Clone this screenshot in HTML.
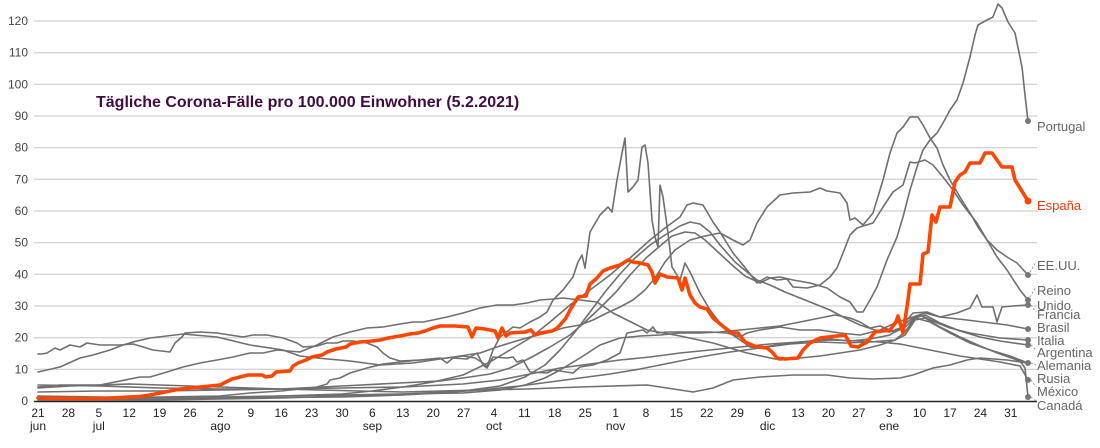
<!DOCTYPE html>
<html><head><meta charset="utf-8"><style>
html,body{margin:0;padding:0;background:#fff;}
svg{display:block;}
text{font-family:"Liberation Sans",Arial,sans-serif;}
</style></head><body>
<svg width="1100" height="448" viewBox="0 0 1100 448" xmlns="http://www.w3.org/2000/svg">
<rect width="1100" height="448" fill="#fff"/>
<g stroke="#c6c6c6" stroke-width="1">
<line x1="34" y1="21" x2="1037" y2="21"/>
<line x1="34" y1="52.7" x2="1037" y2="52.7"/>
<line x1="34" y1="84.3" x2="1037" y2="84.3"/>
<line x1="34" y1="116" x2="1037" y2="116"/>
<line x1="34" y1="147.7" x2="1037" y2="147.7"/>
<line x1="34" y1="179.3" x2="1037" y2="179.3"/>
<line x1="34" y1="211" x2="1037" y2="211"/>
<line x1="34" y1="242.7" x2="1037" y2="242.7"/>
<line x1="34" y1="274.3" x2="1037" y2="274.3"/>
<line x1="34" y1="306" x2="1037" y2="306"/>
<line x1="34" y1="337.7" x2="1037" y2="337.7"/>
<line x1="34" y1="369.3" x2="1037" y2="369.3"/>
</g>
<g font-size="12" fill="#444" text-anchor="end">
<text x="28" y="25">120</text><text x="28" y="56.7">110</text><text x="28" y="88.3">100</text>
<text x="28" y="120">90</text><text x="28" y="151.7">80</text><text x="28" y="183.3">70</text>
<text x="28" y="215">60</text><text x="28" y="246.7">50</text><text x="28" y="278.3">40</text>
<text x="28" y="310">30</text><text x="28" y="341.7">20</text><text x="28" y="373.3">10</text>
<text x="28" y="405">0</text>
</g>
<text x="96" y="107" font-size="16" font-weight="bold" fill="#420a45">Tägliche Corona-Fälle pro 100.000 Einwohner (5.2.2021)</text>

<g fill="none" stroke="#6f6f6f" stroke-width="1.6" stroke-linejoin="round" stroke-linecap="round">
<!-- Canada -->
<polyline points="38,398 100,398.5 160,398 220,398 281,397.5 342,397 403,395 440,393 480,390 520,386 550,382 580,378 610,374 640,369 670,363 700,357 730,352 760,348 790,344 820,342 845,343 870,342 895,340 905,335 915,320 925,318 940,327 960,337 980,346 1000,354 1020,361 1025,368 1028,397"/>
<!-- Mexico -->
<polyline points="38,388 70,386 100,385 130,384 160,385 190,386 220,387 250,388 281,389 320,390 360,391 403,392 440,391 480,390 527,389 580,387 647,385 680,390 693,392 713,388 733,380 760,377 793,375 827,375 850,378 873,379 900,378 913,375 933,368 950,365 967,360 980,358 1007,360 1028,363"/>
<!-- Russia -->
<polyline points="38,385 100,386 160,388 220,389 281,389 342,388 403,387 463,384 500,380 530,374 560,368 590,364 620,360 650,357 680,353 710,350 740,347 770,344 800,342 830,340 860,341 880,342 900,344 920,348 940,352 960,356 980,359 1000,362 1020,366 1028,380"/>
<!-- Germany -->
<polyline points="38,399 160,399.5 220,398 281,396 342,395 403,394 463,393 500,390 525,385 545,378 560,370 580,358 600,345 620,338 640,336 660,335 680,333 700,333 720,332 740,330 760,328 780,326 800,322 820,318 835,315 850,318 860,322 870,328 880,326 895,332 905,327 915,318 930,322 950,333 970,343 990,350 1010,356 1028,363"/>
<!-- Argentina -->
<polyline points="38,387 60,385 100,385 140,377 150,377 167,372 183,367 200,363 217,360 233,357 250,353 263,353 277,350 300,352 317,345 333,337 350,332 367,328 383,327 400,324 413,322 423,322 433,320 447,317 463,313 480,308 497,305 513,305 527,303 540,300 553,299 563,298 580,300 597,302 613,313 633,323 647,330 680,336 713,343 747,353 780,360 800,358 820,356 840,353 860,350 880,345 895,340 905,332 915,318 925,315 940,323 960,331 980,337 1000,341 1028,345"/>
<!-- Italy -->
<polyline points="38,400 160,400 220,399 281,398 342,396 403,394 463,391 500,386 525,377 545,365 560,350 575,332 590,312 605,292 620,274 635,258 650,245 665,235 680,226 690,222 700,224 710,232 720,245 735,262 747,272 757,280 770,285 785,292 800,298 815,304 830,310 845,318 860,325 875,330 890,332 900,328 910,320 920,315 935,322 950,328 970,333 1000,338 1028,340"/>
<!-- Brazil -->
<polyline points="38,354 42,354 47,353 55,348 60,350 70,345 80,347 87,343 100,345 120,345 133,344 143,347 153,350 170,352 175,343 182,337 185,333 200,332 217,333 230,335 243,337 253,335 267,335 283,338 297,343 303,347 317,346 327,343 337,343 343,341 353,341 367,343 377,347 383,353 390,358 400,361 420,360 440,358 447,363 453,358 467,359 477,353 483,365 487,368 493,357 507,358 513,357 517,362 523,360 530,372 547,373 553,370 573,373 580,367 593,365 607,360 620,353 627,333 643,330 647,333 653,327 657,333 667,332 710,332 727,333 740,337 747,333 760,330 780,327 800,330 820,330 840,333 860,335 880,330 895,323 910,318 925,313 940,317 967,320 1007,325 1028,329"/>
<!-- France -->
<polyline points="38,399 100,398 160,397 220,396 250,393 281,391 300,389 317,387 327,384 330,380 340,378 350,373 367,368 383,364 400,362 420,360 447,358 463,356 475,358 483,363 487,367 493,350 500,337 513,327 520,328 530,322 540,317 547,312 553,300 563,290 573,277 578,262 582,255 585,268 590,232 600,215 608,207 612,212 617,180 622,153 625,138 628,192 633,187 638,180 642,147 645,145 648,163 652,220 655,237 658,247 660,185 663,197 668,233 672,267 680,280 685,263 690,272 700,293 710,310 720,323 730,333 740,340 750,347 757,348 770,346 790,343 810,341 830,339 850,341 870,339 890,335 900,328 913,313 927,312 940,317 957,313 970,308 977,295 982,307 993,307 997,322 1002,307 1013,306 1028,305"/>
<!-- UK -->
<polyline points="38,396 100,397 160,398 220,397 281,396 342,394 372,391 403,387 433,382 463,375 490,362 510,350 530,338 550,322 570,305 590,290 610,275 630,258 650,240 665,228 680,217 687,205 693,203 703,205 713,222 720,232 733,253 747,270 757,283 767,277 777,280 787,279 793,287 807,288 820,285 830,277 837,268 845,248 850,235 857,228 863,226 873,223 883,207 893,192 903,185 910,162 915,163 925,160 933,165 943,177 953,190 963,205 977,223 987,240 997,257 1007,270 1020,290 1028,300"/>
<!-- US -->
<polyline points="38,372 60,367 80,358 93,355 110,350 123,345 133,342 150,338 183,334 217,337 250,345 283,350 300,356 317,358 350,361 380,365 413,363 447,358 480,353 497,347 513,342 530,337 547,333 563,328 580,325 593,320 607,313 620,307 633,300 645,290 655,278 665,262 675,250 690,240 705,236 720,233 733,240 743,245 750,240 757,223 767,207 780,195 793,193 810,192 820,188 827,191 840,193 847,203 850,220 855,218 863,225 873,213 883,180 890,153 897,133 903,127 910,117 918,117 923,125 930,138 937,148 943,165 950,180 960,197 970,213 978,227 987,240 997,250 1007,257 1017,263 1028,275"/>
<!-- Portugal -->
<polyline points="38,392 100,391 160,391 220,390 281,389 342,386 400,383 440,381 463,378 490,374 510,368 530,358 550,347 570,335 585,322 600,308 616,292 630,275 646,258 660,246 672,236 685,232 695,233 705,240 718,252 732,265 745,276 760,283 770,278 780,277 793,280 810,283 827,288 840,297 850,302 857,312 863,312 870,300 877,287 887,260 897,237 903,217 910,190 917,167 923,150 930,140 937,133 943,123 950,110 957,100 963,83 970,57 975,35 978,25 987,20 993,17 998,4 1002,8 1008,22 1015,33 1022,67 1025,95 1028,121"/>
</g>
<!-- Spain -->
<polyline fill="none" stroke="#ff4500" stroke-width="3.6" stroke-linejoin="round" stroke-linecap="round" points="38,398 60,398.5 100,398.5 120,397.5 140,396.5 150,395 160,393 170,391 180,389 190,388 200,387 210,386 220,385 226,382 232,379 240,377 248,375 262,375 266,377 272,376 276,372 290,371 293,366 298,363 306,360 312,357 322,355 327,352 336,349 346,347 350,344 360,342 372,341 380,340 388,338 400,336 410,334 418,333 425,331 433,328 440,326 455,326 468,327 472,337 476,328 485,329 495,331 498,338 502,328 506,336 510,333 525,332 531,330 535,335 540,333 552,331 556,329 560,325 566,318 570,310 575,302 578,297 586,296 590,284 596,279 603,271 610,268 620,265 628,260 633,262 640,263 648,265 652,272 655,283 660,274 667,277 678,278 682,290 685,278 690,295 695,303 700,307 707,309 713,318 725,328 732,333 738,333 745,342 757,347 767,348 772,352 777,358 785,359 798,358 803,350 810,343 820,338 845,335 848,340 851,346 858,347 867,342 875,332 890,330 896,322 898,316 903,333 908,300 910,284 920,284 923,254 928,252 932,215 936,222 940,207 950,207 955,182 960,175 965,172 970,163 980,163 985,153 992,153 997,160 1002,167 1012,167 1015,180 1020,188 1028,201"/>

<line x1="34" y1="401.5" x2="1037" y2="401.5" stroke="#222" stroke-width="1.5"/>

<g fill="#777">
<circle cx="1028" cy="121" r="3"/><circle cx="1028" cy="275" r="3"/><circle cx="1028" cy="300" r="3"/>
<circle cx="1028" cy="305" r="3"/><circle cx="1028" cy="329" r="3"/><circle cx="1028" cy="340" r="3"/>
<circle cx="1028" cy="345" r="3"/><circle cx="1028" cy="363" r="3"/><circle cx="1028" cy="380" r="3"/>
<circle cx="1028" cy="397" r="3"/>
</g>
<circle cx="1028" cy="201" r="3.5" fill="#ff4500"/>
<g stroke="#999" stroke-width="1" stroke-dasharray="2,2" fill="none">
<line x1="1030" y1="272" x2="1036" y2="262"/>
<line x1="1030" y1="297" x2="1036" y2="287"/>
<line x1="1031" y1="305" x2="1036" y2="312"/>
<line x1="1031" y1="345" x2="1036" y2="350"/>
<line x1="1031" y1="363" x2="1036" y2="365"/>
<line x1="1031" y1="380" x2="1036" y2="387"/>
<line x1="1031" y1="397" x2="1036" y2="401"/>
</g>
<g font-size="13" fill="#666">
<text x="1037" y="131">Portugal</text>
<text x="1037" y="270">EE.UU.</text>
<text x="1037" y="295">Reino</text>
<text x="1037" y="310">Unido</text>
<text x="1037" y="319">Francia</text>
<text x="1037" y="332">Brasil</text>
<text x="1037" y="345">Italia</text>
<text x="1037" y="357">Argentina</text>
<text x="1037" y="370">Alemania</text>
<text x="1037" y="383">Rusia</text>
<text x="1037" y="396">México</text>
<text x="1037" y="410">Canadá</text>
</g>
<text x="1037" y="210" font-size="13" fill="#ff3300">España</text>

<g font-size="12" fill="#222" text-anchor="middle">
<text x="38" y="417">21</text><text x="68.4" y="417">28</text><text x="98.8" y="417">5</text>
<text x="129.2" y="417">12</text><text x="159.6" y="417">19</text><text x="190" y="417">26</text>
<text x="220.4" y="417">2</text><text x="250.8" y="417">9</text><text x="281.2" y="417">16</text>
<text x="311.6" y="417">23</text><text x="342" y="417">30</text><text x="372.4" y="417">6</text>
<text x="402.8" y="417">13</text><text x="433.2" y="417">20</text><text x="463.6" y="417">27</text>
<text x="494" y="417">4</text><text x="524.4" y="417">11</text><text x="554.8" y="417">18</text>
<text x="585.2" y="417">25</text><text x="615.6" y="417">1</text><text x="646" y="417">8</text>
<text x="676.4" y="417">15</text><text x="706.8" y="417">22</text><text x="737.2" y="417">29</text>
<text x="767.6" y="417">6</text><text x="798" y="417">13</text><text x="828.4" y="417">20</text>
<text x="858.8" y="417">27</text><text x="889.2" y="417">3</text><text x="919.6" y="417">10</text>
<text x="950" y="417">17</text><text x="980.4" y="417">24</text><text x="1010.8" y="417">31</text>
<text x="38" y="430">jun</text><text x="98.8" y="430">jul</text><text x="220.4" y="430">ago</text>
<text x="372.4" y="430">sep</text><text x="494" y="430">oct</text><text x="615.6" y="430">nov</text>
<text x="767.6" y="430">dic</text><text x="889.2" y="430">ene</text>
</g>
</svg>
</body></html>
